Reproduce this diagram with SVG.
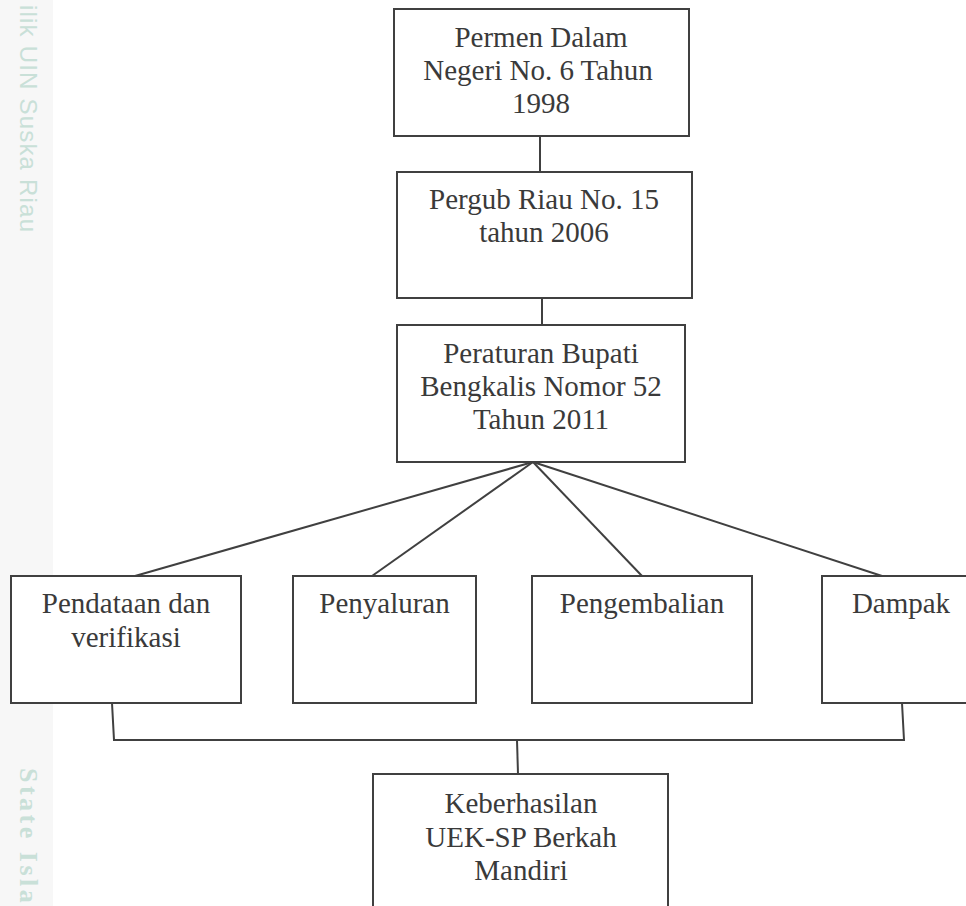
<svg xmlns="http://www.w3.org/2000/svg" width="966" height="906" viewBox="0 0 966 906">
  <style>
    .box { fill: #ffffff; stroke: #404040; stroke-width: 2; }
    .lbl { font-family: "Liberation Serif", "Times New Roman", serif; font-size: 29px; fill: #3a3a3a; text-anchor: middle; }
    .con { stroke: #404040; stroke-width: 2; fill: none; }
    .wm { fill: #c9e0d8; }
  </style>
  <rect x="0" y="0" width="966" height="906" fill="#ffffff"/>
  <rect x="0" y="0" width="53" height="906" fill="#f7f7f7"/>
  <g id="watermark">
    <text class="wm" transform="translate(20,5) rotate(90)" font-family="Liberation Sans, Arial, sans-serif" font-size="24" letter-spacing="1.2">ilik UIN Suska Riau</text>
    <text class="wm" transform="translate(20,768) rotate(90)" font-family="Liberation Serif, Times New Roman, serif" font-size="26" font-weight="bold" letter-spacing="3.5">State Isla</text>
  </g>
  <g id="connectors">
    <line class="con" x1="540" y1="136" x2="540" y2="172"/>
    <line class="con" x1="542" y1="298" x2="542" y2="325"/>
    <line class="con" x1="533" y1="462" x2="135" y2="576"/>
    <line class="con" x1="533" y1="462" x2="372" y2="576"/>
    <line class="con" x1="533" y1="462" x2="642" y2="576"/>
    <line class="con" x1="533" y1="462" x2="882" y2="576"/>
    <polyline class="con" points="112,703 114,740 904,740 902,703"/>
    <line class="con" x1="517" y1="740" x2="518" y2="774"/>
  </g>
  <g id="node-permen">
    <rect class="box" x="394" y="9" width="295" height="127"/>
    <text class="lbl" x="541" y="47">Permen Dalam</text>
    <text class="lbl" x="538" y="80">Negeri No. 6 Tahun</text>
    <text class="lbl" x="541" y="113">1998</text>
  </g>
  <g id="node-pergub">
    <rect class="box" x="397" y="172" width="295" height="126"/>
    <text class="lbl" x="544" y="209">Pergub Riau No. 15</text>
    <text class="lbl" x="544" y="242">tahun 2006</text>
  </g>
  <g id="node-perbup">
    <rect class="box" x="397" y="325" width="288" height="137"/>
    <text class="lbl" x="541" y="363">Peraturan Bupati</text>
    <text class="lbl" x="541" y="396">Bengkalis Nomor 52</text>
    <text class="lbl" x="541" y="429">Tahun 2011</text>
  </g>
  <g id="node-pendataan">
    <rect class="box" x="11" y="576" width="230" height="127"/>
    <text class="lbl" x="126" y="613">Pendataan dan</text>
    <text class="lbl" x="126" y="647">verifikasi</text>
  </g>
  <g id="node-penyaluran">
    <rect class="box" x="293" y="576" width="183" height="127"/>
    <text class="lbl" x="384.5" y="613">Penyaluran</text>
  </g>
  <g id="node-pengembalian">
    <rect class="box" x="532" y="576" width="220" height="127"/>
    <text class="lbl" x="642" y="613">Pengembalian</text>
  </g>
  <g id="node-dampak">
    <rect class="box" x="822" y="576" width="160" height="127"/>
    <text class="lbl" x="901" y="613">Dampak</text>
  </g>
  <g id="node-keberhasilan">
    <rect class="box" x="373" y="774" width="295" height="140"/>
    <text class="lbl" x="521" y="813">Keberhasilan</text>
    <text class="lbl" x="521" y="847">UEK-SP Berkah</text>
    <text class="lbl" x="521" y="880">Mandiri</text>
  </g>
</svg>
